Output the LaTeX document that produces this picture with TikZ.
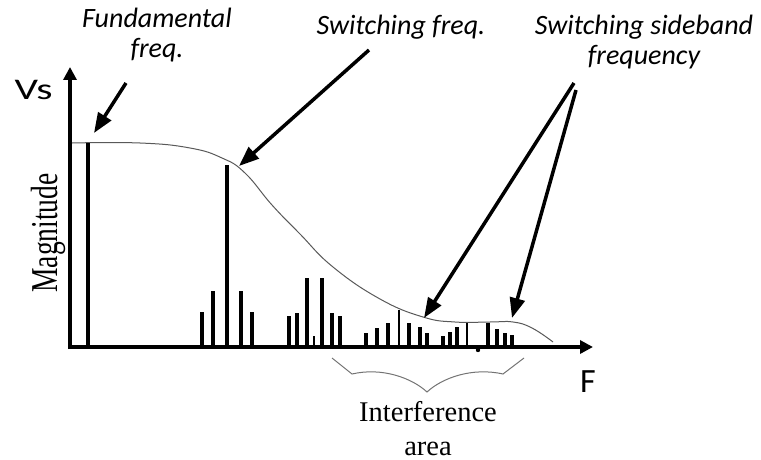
\documentclass[tikz,border=0pt]{standalone}
\usepackage{fontspec}
\setmainfont{Liberation Serif}
\newfontfamily\calfont{Carlito}
\usetikzlibrary{arrows.meta}
\begin{document}
\begin{tikzpicture}[x=1pt,y=-1pt,
  axis/.style={line width=3.5pt,-{Triangle[length=13pt,width=13pt]}},
  spec/.style={line width=3.5pt},
  thinspec/.style={line width=2pt},
  callout/.style={line width=3.5pt,-{Triangle[length=20pt,width=15pt]}},
  lbl/.style={font=\calfont\itshape\fontsize{28}{30}\selectfont, align=center, inner sep=0pt},
  serif/.style={font=\fontsize{28.5}{34}\selectfont, align=center, inner sep=0pt},
  envelope/.style={line width=1pt, draw=black!65},
  bracestyle/.style={line width=1pt, draw=black!55},
]
\useasboundingbox (0,0) rectangle (761,460);

% axes
\coordinate (origin) at (70,347);
\coordinate (xend) at (593,347);
\coordinate (yend) at (70,67);
\draw[axis] (68,347) -- (xend);
\draw[axis] (70,349) -- (yend);

% axis labels
\node[font=\calfont\fontsize{30}{30}\selectfont, inner sep=0pt, anchor=base] (vs) at (33.5,99.5) {\scalebox{1.38}[1]{Vs}};
\node[font=\calfont\fontsize{34}{36}\selectfont, inner sep=0pt, anchor=base] (F) at (588,392) {F};
\node[rotate=90, anchor=base, font=\fontsize{27.5}{30}\selectfont, inner sep=0pt] (mag) at (57,233) {\scalebox{1}[1.38]{Magnitude}};

% envelope
\draw[envelope] plot[smooth, tension=0.75] coordinates {(72,143) (140,143) (190,148) (222,158) (245,173) (272,205) (300,234) (333,267) (380,299) (423,317) (455,322) (490,322) (513,322) (532,328) (553,342)};

% spectral lines
\foreach \x/\t in {88/143, 227/165, 202/312, 213/291, 241/291, 252/312, 289/316, 297/313, 307/278, 322/278, 332/313, 340/316, 366/333, 377/328, 388/323, 409/323, 420/327, 427/333, 443/336, 450/332, 457/327, 488/323, 497/329, 505/333, 512/335}
  \draw[spec] (\x,347) -- (\x,\t);
\foreach \x/\t in {314/336, 399/310, 467/323}
  \draw[thinspec] (\x,347) -- (\x,\t);
\fill (478,350) circle (2.2pt);

% labels (base = baseline of last line)
\node[lbl, anchor=base] (fund) at (157,58) {Fundamental\\freq.};
\node[lbl, anchor=base] (sw) at (401,35) {Switching freq.};
\node[lbl, anchor=base] (sb) at (644,65) {Switching sideband\\frequency};

% callout arrows
\coordinate (fundstart) at (126,83);
\coordinate (fundtip) at (94,133);
\coordinate (swstart) at (369,50);
\coordinate (swtip) at (239,166);
\coordinate (sbstartA) at (574,83);
\coordinate (sbtipA) at (424,318);
\coordinate (sbstartB) at (576,90);
\coordinate (sbtipB) at (512,318);
\draw[callout] (fundstart) -- (fundtip);
\draw[callout] (swstart) -- (swtip);
\draw[callout] (sbstartA) -- (sbtipA);
\draw[callout] (sbstartB) -- (sbtipB);

% brace
\coordinate (brL) at (332,358);
\coordinate (brR) at (524,358);
\coordinate (brM) at (427,392);
\draw[bracestyle] (brL) -- (352,374) .. controls (382,367) and (412,378) .. (brM)
  .. controls (442,378) and (472,367) .. (503,374) -- (brR);
\node[serif, anchor=base] (intf) at (428,455) {Interference\\area};
\end{tikzpicture}
\end{document}
